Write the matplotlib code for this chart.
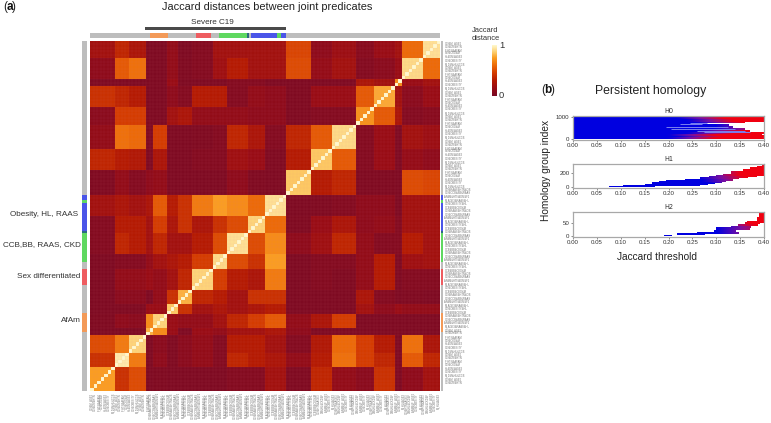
import numpy as np
import matplotlib
matplotlib.use("Agg")
import matplotlib.pyplot as plt
from matplotlib.colors import LinearSegmentedColormap

W, H = 771, 423

# heatmap blocks: size of each block in cells, then lower triangle of block values
block_sizes = [7, 4, 5, 2, 4, 3, 4, 6, 4, 6, 5, 6, 7, 6, 7, 5, 6, 2, 6, 5]
block_values = [
    [.75],
    [.40, .95],
    [.50, .65, .88],
    [.02, .02, .02, .80],
    [.03, .10, .08, .70, .88],
    [.02, .03, .03, .15, .15, .85],
    [.02, .08, .08, .02, .12, .40, .80],
    [.02, .12, .12, .15, .12, .20, .35, .88],
    [.02, .05, .05, .12, .20, .25, .30, .45, .90],
    [.05, .35, .30, .20, .35, .20, .20, .30, .50, .92],
    [.05, .30, .30, .20, .45, .25, .40, .25, .40, .50, .88],
    [.20, .25, .20, .25, .55, .30, .40, .65, .75, .70, .60, .92],
    [.03, .12, .05, .10, .12, .02, .02, .02, .02, .10, .03, .02, .85],
    [.35, .30, .28, .02, .25, .02, .02, .05, .05, .18, .15, .03, .30, .85],
    [.12, .62, .60, .02, .45, .02, .02, .03, .05, .35, .25, .05, .35, .55, .90],
    [.08, .45, .45, .02, .02, .20, .25, .12, .12, .12, .10, .10, .03, .05, .05, .72],
    [.40, .35, .30, .02, .02, .10, .05, .30, .30, .05, .12, .10, .03, .15, .15, .55, .78],
    [.02, .02, .02, .02, .02, .15, .02, .02, .02, .05, .05, .02, .02, .02, .02, .25, .20, .70],
    [.10, .55, .62, .02, .02, .12, .03, .05, .18, .30, .20, .20, .50, .13, .20, .05, .08, .15, .90],
    [.20, .35, .25, .02, .02, .12, .02, .05, .20, .20, .20, .20, .48, .10, .17, .07, .15, .20, .60, .92],
]

# annotation strips (start px, end px, colour)
top_strip = [(90, 150, "#bdbdbd"), (150, 168, "#f39a58"), (168, 196, "#bdbdbd"), (196, 211, "#ee5c60"),
             (211, 219, "#bdbdbd"), (219, 247, "#5fd860"), (247, 249, "#2a6a80"), (249, 251, "#bdbdbd"),
             (251, 277, "#4a55e8"), (277, 281, "#5fd860"), (281, 286, "#4a55e8"), (286, 440, "#bdbdbd")]
side_strip = [(41, 195, "#bdbdbd"), (195, 200, "#4a55e8"), (200, 203, "#5fd860"), (203, 231, "#4a55e8"),
              (231, 233, "#2a6a80"), (233, 262, "#5fd860"), (262, 269, "#bdbdbd"), (269, 285, "#ee5c60"),
              (285, 313, "#bdbdbd"), (313, 332, "#f39a58"), (332, 391, "#bdbdbd")]

# tiny predicate labels, unreadable in the reference so only their length is kept
short_labels = ["C19&M_AGE2", "C19&DM&HTN", "F_HTN&AFAM", "C19&CKD&M", "HL&DM&AGE3", "C19&OBESITY", "M_DM&HL&CCB"]
long_labels = ["C19&RAAS&HTN&OB", "C19&CCB&BB&RAAS", "AFAM&HTN&DM&F2", "M_AGE3&RAAS&HL",
               "C19&OBESITY&HL", "CCB&BB&CKD&M"]
medium_labels = ["C19&HTN&AGE3", "DM&HL&CKD&F", "AFAM&F_AGE2", "C19&OBESITY", "M_HL&AGE3"]
n_short_left, n_long_mid = 17, 48

h0_low = [0, 90, 170, 230, 310, 400, 490, 550, 660, 715, 770, 915, 1000]
h0_high = [90, 170, 230, 310, 400, 490, 550, 660, 715, 770, 915, 1000, 1050]
h0_end = [.40, .40, .395, .40, .37, .36, .335, .325, .27, .36, .40, .40, .40]
h0_red = [.30, .32, .30, .34, .36, .40, .40, .40, .40, .36, .34, .32, .10]
h0_streak_y = [690, 735, 560, 470, 395, 350]
h0_streak_start = [.225, .245, .195, .205, .26, .275]
h0_streak_end = [.27, .28, .325, .34, .36, .37]

h1_low = [0, 8, 18, 28, 40, 55, 70, 90, 110, 130, 150, 165, 190, 220, 250, 280, 305]
h1_high = [8, 18, 28, 40, 55, 70, 90, 110, 130, 150, 165, 190, 220, 250, 280, 305, 330]
h1_start = [.075, .105, .13, .15, .165, .18, .195, .235, .265, .285, .30, .315, .33, .355, .37, .385, .395]
h1_end = [.17, .20, .265, .28, .295, .31, .32, .335, .345, .365, .385, .40, .40, .40, .40, .40, .40]
h1_red = [.40, .40, .40, .40, .40, .38, .37, .37, .36, .36, .36, .35, .35, .34, .34, .33, .33]

h2_low = [0, 2, 6, 9, 16, 21, 26, 32, 38, 44, 50, 55, 70]
h2_high = [3, 6, 10, 14, 21, 26, 32, 38, 44, 50, 55, 70, 90]
h2_start = [.19, .217, .26, .28, .295, .30, .30, .33, .345, .36, .365, .385, .39]
h2_end = [.205, .275, .30, .345, .34, .37, .33, .37, .385, .39, .40, .40, .40]
h2_red = [.40, .40, .40, .40, .40, .40, .40, .40, .38, .37, .37, .37, .36]

x_ticks = [0, .05, .10, .15, .20, .25, .30, .35, .40]


def add_px_axes(fig, x0, y0, x1, y1):
    # pixel box measured from the top left of the picture
    return fig.add_axes([x0 / W, 1 - y1 / H, (x1 - x0) / W, (y1 - y0) / H])


def px_text(fig, x, y, s, **kw):
    return fig.text(x / W, 1 - y / H, s, **kw)


def expand_blocks(sizes, tri):
    full = np.zeros((len(sizes), len(sizes)))
    for i, row in enumerate(tri):
        for j, v in enumerate(row):
            full[i, j] = v
            full[j, i] = v
    mat = np.repeat(np.repeat(full, sizes, axis=0), sizes, axis=1)
    np.fill_diagonal(mat, 1.0)
    return mat


def draw_strip(ax, segs, horizontal=True):
    for a, b, c in segs:
        if horizontal:
            ax.axvspan(a, b, color=c, lw=0)
        else:
            ax.axhspan(a, b, color=c, lw=0)
    ax.axis("off")


def draw_bars(ax, low, high, start, end, red):
    for y0, y1, s, e, r in zip(low, high, start, end, red):
        xs = np.linspace(s, e, 40)
        vals = np.clip((xs - (r - .10)) / .10, 0, 1)[None, :]
        ax.imshow(vals, extent=[s, e, y0, y1], aspect="auto", cmap=bar_cmap, vmin=0, vmax=1,
                  interpolation="bilinear", origin="lower")


def style_bar_axes(ax, title, ylim, yticks):
    ax.set_xlim(0, .40)
    ax.set_ylim(*ylim)
    ax.set_xticks(x_ticks)
    ax.set_xticklabels(["%.2f" % t for t in x_ticks])
    ax.set_yticks(yticks)
    ax.tick_params(labelsize=4.4, length=1.5, width=.4, pad=1, colors="#333333")
    ax.set_title(title, fontsize=4.8, pad=2, color="#333333", family="DejaVu Sans")
    for sp in ax.spines.values():
        sp.set_color("#a8a8a8")
        sp.set_linewidth(.9)


heat_cmap = LinearSegmentedColormap.from_list(
    "heat", [(0, "#7a0a24"), (.15, "#980c14"), (.3, "#b41a02"), (.45, "#d43c00"), (.6, "#ec6a08"),
             (.75, "#fa9c20"), (.87, "#fdd070"), (1, "#fff8cc")])
bar_cmap = LinearSegmentedColormap.from_list("bar", ["#0000e0", "#7a10a0", "#f00010"])

plt.rcParams["font.family"] = ["Liberation Sans", "DejaVu Sans"]
fig = plt.figure(figsize=(W / 100, H / 100), dpi=100)

# heatmap
ax = add_px_axes(fig, 90, 41, 440, 391)
mat = expand_blocks(block_sizes, block_values)
ax.pcolormesh(mat, cmap=heat_cmap, vmin=0, vmax=1, linewidth=0)
ax.vlines(np.arange(1, 100), 0, 100, color="#e88aa0", lw=.3, alpha=.15)
ax.hlines(np.arange(1, 100), 0, 100, color="#e88aa0", lw=.3, alpha=.15)
ax.set_xlim(0, 100)
ax.set_ylim(0, 100)
ax.axis("off")

# annotation strips
ax_top = add_px_axes(fig, 90, 33, 440, 38)
ax_top.set_xlim(90, 440)
draw_strip(ax_top, top_strip)
ax_left = add_px_axes(fig, 82, 41, 87, 391)
ax_left.set_ylim(391, 41)
draw_strip(ax_left, side_strip, horizontal=False)
ax_right = add_px_axes(fig, 440.5, 41, 443, 391)
ax_right.set_ylim(391, 41)
draw_strip(ax_right, side_strip, horizontal=False)
ax_sev = add_px_axes(fig, 145, 27, 286, 30)
ax_sev.set_facecolor("#4a4a4a")
ax_sev.set_xticks([])
ax_sev.set_yticks([])
for sp in ax_sev.spines.values():
    sp.set_visible(False)

# tiny tick labels along the right and bottom sides
right_labels = (short_labels * 6)[:44] + (long_labels * 8)[:40] + (short_labels * 4)[:16]
for i, s in enumerate(right_labels):
    px_text(fig, 444.5, 43 + i * 3.5, s, fontsize=1.9, color="#777777", va="center", ha="left")
bottom_labels = (short_labels * 3)[:n_short_left] + (long_labels * 8)[:n_long_mid] + (medium_labels * 7)[:35]
for i, s in enumerate(bottom_labels):
    px_text(fig, 91.7 + i * 3.5, 393, s, fontsize=1.9, color="#777777", rotation=90, va="top", ha="center")

# texts of panel a
px_text(fig, 3, 7, "(", fontsize=8.5, va="center", ha="left", color="#222222")
px_text(fig, 6.3, 7, "a", fontsize=8.5, va="center", ha="left", color="#111111", fontweight="bold")
px_text(fig, 12, 7, ")", fontsize=8.5, va="center", ha="left", color="#222222")
px_text(fig, 267, 6.5, "Jaccard distances between joint predicates", fontsize=7.9, va="center", ha="center", color="#222222")
px_text(fig, 212, 23, "Severe C19", fontsize=5.9, va="center", ha="center", color="#333333")
px_text(fig, 78, 214, "Obesity, HL, RAAS", fontsize=5.9, va="center", ha="right", color="#333333")
px_text(fig, 80.5, 245, "CCB,BB, RAAS, CKD", fontsize=5.9, va="center", ha="right", color="#333333")
px_text(fig, 80.5, 277, "Sex differentiated", fontsize=5.9, va="center", ha="right", color="#333333")
px_text(fig, 80.5, 320, "AfAm", fontsize=5.9, va="center", ha="right", color="#333333")
px_text(fig, 472, 30, "Jaccard", fontsize=5.4, va="center", ha="left", color="#333333")
px_text(fig, 472, 39, "distance", fontsize=5.4, va="center", ha="left", color="#333333")

# colour bar
ax_cb = add_px_axes(fig, 492.5, 45, 497, 96)
ax_cb.imshow(np.linspace(1, 0, 100)[:, None], aspect="auto", cmap=heat_cmap, vmin=0, vmax=1)
ax_cb.axis("off")
px_text(fig, 499, 46, "1", fontsize=6.8, va="center", ha="left", color="#333333")
px_text(fig, 498.5, 95, "0", fontsize=6.8, va="center", ha="left", color="#333333")

# persistent homology
ax0 = add_px_axes(fig, 573, 116, 764, 140)
draw_bars(ax0, h0_low, h0_high, [0] * len(h0_low), h0_end, h0_red)
ax0.hlines(h0_streak_y, h0_streak_start, h0_streak_end, color="#7a80f0", lw=.7)
style_bar_axes(ax0, "H0", (-30, 1050), [0, 1000])

ax1 = add_px_axes(fig, 573, 164, 764, 188)
draw_bars(ax1, h1_low, h1_high, h1_start, h1_end, h1_red)
style_bar_axes(ax1, "H1", (-18, 340), [0, 200])

ax2 = add_px_axes(fig, 573, 212, 764, 237)
draw_bars(ax2, h2_low, h2_high, h2_start, h2_end, h2_red)
style_bar_axes(ax2, "H2", (-4, 91), [0, 50])

px_text(fig, 541, 90, "(", fontsize=8.5, va="center", ha="left", color="#222222")
px_text(fig, 544.3, 90, "b", fontsize=8.5, va="center", ha="left", color="#111111", fontweight="bold")
px_text(fig, 550.5, 90, ")", fontsize=8.5, va="center", ha="left", color="#222222")
px_text(fig, 651, 91, "Persistent homology", fontsize=8.8, va="center", ha="center", color="#222222")
px_text(fig, 546, 170, "Homology group index", fontsize=7.3, rotation=90, va="center", ha="center", color="#222222")
px_text(fig, 657, 257, "Jaccard threshold", fontsize=7.3, va="center", ha="center", color="#222222")

fig.savefig("out.png", dpi=100)
